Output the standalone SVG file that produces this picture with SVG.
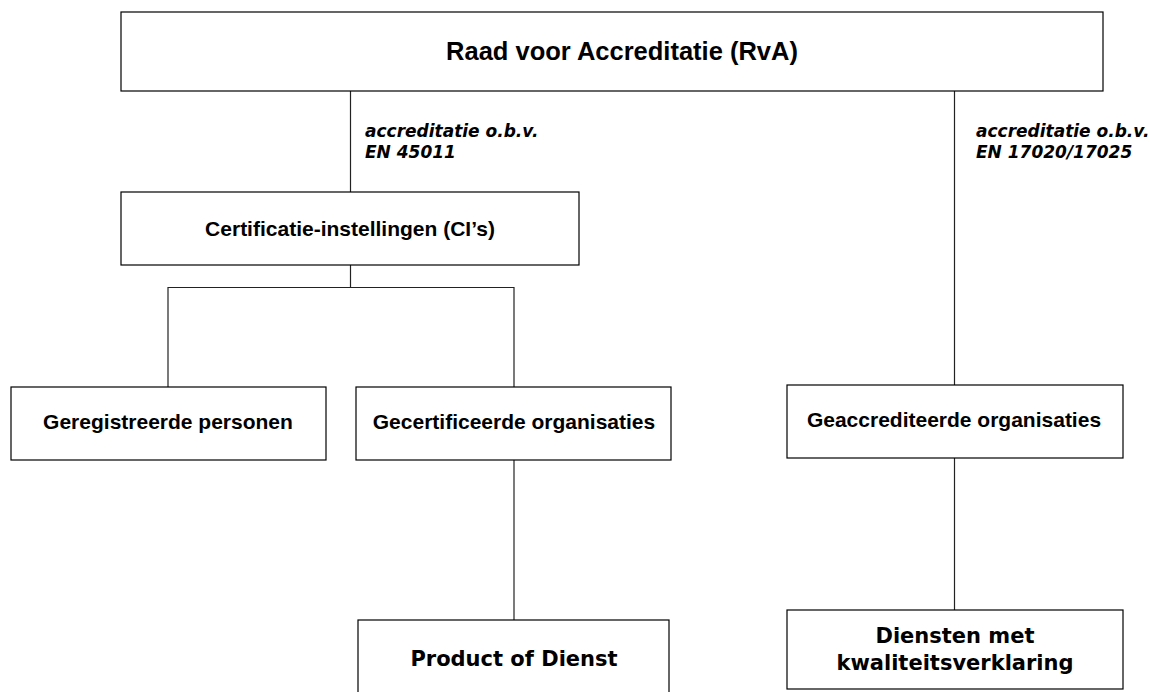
<svg xmlns="http://www.w3.org/2000/svg" width="1150" height="692" viewBox="0 0 1150 692">
<style>
.box{fill:#fff;stroke:#000;stroke-width:1.2}
.ln{fill:none;stroke:#222;stroke-width:1.2}
.a{font-family:"Liberation Sans",Arial,sans-serif;font-weight:bold;font-size:21px;fill:#000;text-anchor:middle}
.v{font-family:"DejaVu Sans",Verdana,sans-serif;font-weight:bold;font-size:21px;fill:#000;text-anchor:middle}
.lbl{font-family:"DejaVu Sans",Verdana,sans-serif;font-weight:bold;font-style:italic;font-size:17px;fill:#000}
</style>
<rect width="1150" height="692" fill="#fff"/>
<g id="connectors">
<line class="ln" x1="350.5" y1="91" x2="350.5" y2="192"/>
<line class="ln" x1="350.5" y1="265" x2="350.5" y2="287.5"/>
<polyline class="ln" points="168,387 168,287.5 514,287.5 514,387"/>
<line class="ln" x1="514" y1="460" x2="514" y2="620"/>
<line class="ln" x1="954.5" y1="91" x2="954.5" y2="385"/>
<line class="ln" x1="954.5" y1="458" x2="954.5" y2="610"/>
<text class="lbl" x="365" y="137">accreditatie o.b.v.</text>
<text class="lbl" x="365" y="158">EN 45011</text>
<text class="lbl" x="976" y="137">accreditatie o.b.v.</text>
<text class="lbl" x="976" y="158">EN 17020/17025</text>
</g>
<g id="rva">
<rect class="box" x="121" y="12" width="982" height="79"/>
<text class="a" x="622" y="60" style="font-size:25.5px">Raad voor Accreditatie (RvA)</text>
</g>
<g id="ci">
<rect class="box" x="121" y="192" width="458" height="73"/>
<text class="a" x="350" y="236">Certificatie-instellingen (CI’s)</text>
</g>
<g id="personen">
<rect class="box" x="11" y="387" width="315" height="73"/>
<text class="a" x="168" y="429">Geregistreerde personen</text>
</g>
<g id="gecertificeerd">
<rect class="box" x="356" y="387" width="315" height="73"/>
<text class="a" x="514" y="429">Gecertificeerde organisaties</text>
</g>
<g id="geaccrediteerd">
<rect class="box" x="787" y="385" width="336" height="73"/>
<text class="a" x="954" y="427">Geaccrediteerde organisaties</text>
</g>
<g id="product">
<rect class="box" x="358" y="620" width="311" height="90"/>
<text class="v" x="514" y="666">Product of Dienst</text>
</g>
<g id="diensten">
<rect class="box" x="787" y="610" width="336" height="79"/>
<text class="v" x="955" y="643">Diensten met</text>
<text class="v" x="955" y="670">kwaliteitsverklaring</text>
</g>
</svg>
